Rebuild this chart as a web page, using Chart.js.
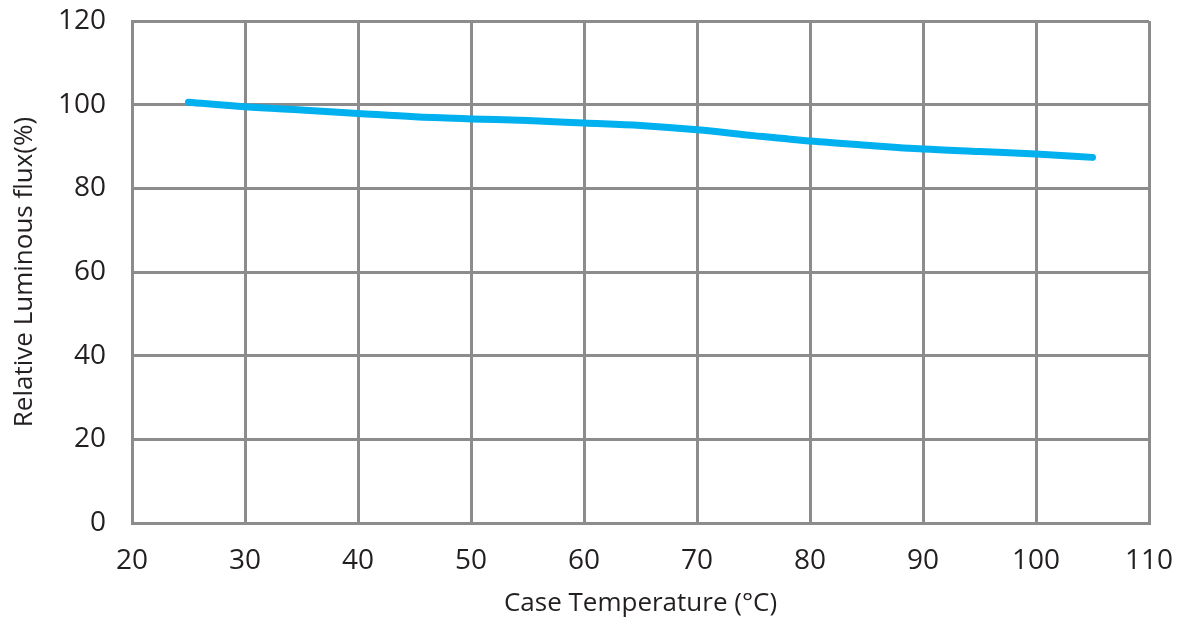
<!DOCTYPE html>
<html>
<head>
<meta charset="utf-8">
<script src="https://cdn.jsdelivr.net/npm/chart.js@4"></script>
<style>
  html, body { margin: 0; padding: 0; background: #fff; }
  #wrap { width: 1188px; height: 623px; }
</style>
</head>
<body>
<div id="wrap"><canvas id="c" width="1188" height="623"></canvas></div>
<script>
// Case temperature (°C) and relative luminous flux (%)
const temperatures = [25, 30, 35, 40, 45, 50, 55, 60, 65, 70, 75, 80, 85, 90, 95, 100, 105];
const relativeFlux = [100.6, 99.5, 98.7, 97.9, 97.1, 96.6, 96.2, 95.6, 95.0, 94.0, 92.6, 91.3, 90.3, 89.4, 88.8, 88.2, 87.4];
const xTicks = [20, 30, 40, 50, 60, 70, 80, 90, 100, 110];
const yTicks = [0, 20, 40, 60, 80, 100, 120];

const gridColor = '#8c8c8c';
const textColor = '#231f20';
const fontFamily = "'Open Sans', 'DejaVu Sans', sans-serif";

const points = temperatures.map((t, i) => ({ x: t, y: relativeFlux[i] }));

new Chart(document.getElementById('c'), {
  type: 'line',
  data: {
    datasets: [{
      data: points,
      borderColor: '#00b0ef',
      borderWidth: 7,
      borderCapStyle: 'round',
      borderJoinStyle: 'round',
      pointRadius: 0,
      cubicInterpolationMode: 'monotone',
      fill: false
    }]
  },
  options: {
    responsive: false,
    animation: false,
    layout: { padding: { top: 21, right: 39, left: 0, bottom: 0 } },
    plugins: { legend: { display: false }, tooltip: { enabled: false } },
    scales: {
      x: {
        type: 'linear',
        min: 20, max: 110,
        afterBuildTicks: s => { s.ticks = xTicks.map(v => ({ value: v })); },
        afterFit: s => { s.height = 100; s.paddingLeft = 0; s.paddingRight = 0; },
        grid: { color: gridColor, lineWidth: 3, drawTicks: false },
        border: { color: gridColor, width: 3 },
        ticks: { color: textColor, padding: 21, maxRotation: 0, font: { family: fontFamily, size: 28 } },
        title: {
          display: true,
          text: 'Case Temperature (°C)',
          color: textColor,
          font: { family: fontFamily, size: 26 },
          padding: { top: 4, bottom: 4 }
        }
      },
      y: {
        min: 0, max: 120,
        afterBuildTicks: s => { s.ticks = yTicks.map(v => ({ value: v })); },
        afterFit: s => { s.width = 132; s.paddingTop = 0; s.paddingBottom = 0; },
        grid: { color: gridColor, lineWidth: 3, drawTicks: false },
        border: { color: gridColor, width: 3 },
        ticks: { color: textColor, padding: 26, font: { family: fontFamily, size: 28 } },
        title: {
          display: true,
          text: 'Relative Luminous flux(%)',
          color: textColor,
          font: { family: fontFamily, size: 26 },
          padding: { top: 9, bottom: 0 }
        }
      }
    }
  }
});
</script>
</body>
</html>
